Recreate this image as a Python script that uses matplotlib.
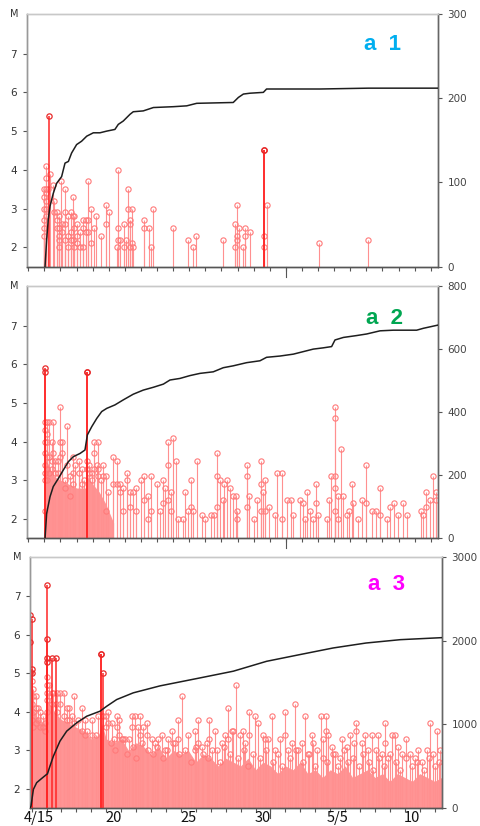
import numpy as np
import matplotlib.pyplot as plt
from matplotlib.transforms import blended_transform_factory

# Time axis: days counted from 4/15 00:00 (negative = evening of 4/14)

# ---------------- panel a1 ----------------
a1_times = [1.00, 1.10, 1.24, 1.31, 1.35, 1.51, 1.62, 1.76, 1.93, 2.01, 2.07, 2.28, 2.49,
            2.63, 2.76, 2.86, 3.05, 3.21, 3.42, 3.58, 3.73, 3.87, 4.08, 4.20, 4.49, 4.83,
            5.03, 5.49, 5.59, 5.70, 5.96, 6.07, 6.21, 6.32, 6.42, 6.52, 7.21, 7.52, 7.60,
            7.72, 8.97, 9.94, 10.25, 10.42, 12.11, 12.84, 12.98, 13.11, 13.31, 13.46,
            13.77, 14.66, 14.80, 18.07, 21.12]
a1_mags = [[3.5, 3.3, 3.0, 2.7, 2.5, 2.3], [4.1, 3.8, 3.5, 3.4, 3.2, 3.0, 2.8], [3.5], [5.4],
           [3.9], [3.6], [3.2, 2.9], [2.9, 2.7, 2.5], [2.8, 2.5, 2.3, 2.2, 2.0], [3.7],
           [2.6, 2.4], [3.5, 2.9, 2.6, 2.2], [2.8, 2.3, 2.0], [2.9, 2.4, 2.2], [3.3, 2.8, 2.2],
           [2.8, 2.5, 2.0], [2.6, 2.3, 2.1], [2.4, 2.0], [2.7, 2.5, 2.0], [2.7, 2.4],
           [3.7, 2.7, 2.4], [3.0, 2.1], [2.5], [2.8], [2.3], [3.1, 2.6], [2.9], [2.0],
           [4.0, 2.5, 2.2], [2.2], [2.6, 2.0], [2.2], [3.5, 3.0], [2.7, 2.6, 2.0], [3.0, 2.1],
           [2.0], [2.7, 2.5], [2.5], [2.0], [3.0], [2.5], [2.2], [2.0], [2.3], [2.2],
           [2.6, 2.0], [3.1, 2.3, 2.2], [2.5], [2.0], [2.5, 2.3], [2.4], [4.5, 4.5, 2.3, 2.0],
           [3.1], [2.1], [2.2]]
a1_cum_t = [1.04, 1.14, 1.24, 1.35, 1.55, 1.76, 2.07, 2.28, 2.49, 2.69, 3.00, 3.31, 3.63,
            4.04, 4.45, 4.87, 5.38, 5.59, 5.90, 6.32, 6.52, 7.14, 7.77, 9.01, 9.84, 10.46,
            12.73, 13.05, 13.36, 13.77, 14.60, 14.80, 18.12, 21.12, 25.43]
a1_cum_n = [0, 32, 56, 72, 87, 99, 107, 123, 125, 135, 145, 149, 155, 159, 159, 161, 163,
            169, 173, 181, 184, 185, 189, 190, 191, 194, 195, 201, 205, 206, 207, 211, 211,
            212, 212]
a1_right_ticks = [0, 100, 200, 300]

# ---------------- panel a2 ----------------
a2_times = [1.04, 1.14, 1.31, 1.45, 1.55, 1.66, 1.87, 1.97, 2.07, 2.28, 2.42, 2.59, 2.76,
            2.90, 3.17, 3.31, 3.46, 3.63, 3.79, 3.94, 4.08, 4.25, 4.35, 4.49, 4.66, 4.83,
            4.97, 5.28, 5.53, 5.70, 5.86, 6.11, 6.32, 6.48, 6.69, 7.00, 7.19, 7.45, 7.60,
            7.97, 8.18, 8.35, 8.49, 8.70, 8.84, 9.01, 9.15, 9.32, 9.58, 9.73, 9.94, 10.09,
            10.25, 10.46, 10.77, 10.97, 11.33, 11.53, 11.70, 11.91, 12.07, 12.16, 12.36,
            12.53, 12.73, 12.90, 12.98, 13.60, 13.73, 14.02, 14.22, 14.43, 14.60, 14.70,
            14.97, 15.32, 15.47, 15.74, 16.05, 16.30, 16.46, 16.88, 17.04, 17.19, 17.29,
            17.50, 17.70, 17.87, 18.01, 18.53, 18.70, 18.78, 19.05, 19.21, 19.40, 19.57,
            19.77, 19.94, 20.08, 20.19, 20.50, 20.71, 20.98, 21.33, 21.60, 21.85, 22.26,
            22.46, 22.71, 22.98, 23.25, 23.50, 24.37, 24.54, 24.70, 24.95, 25.16, 25.32]
a2_mags = [[5.9, 5.8, 4.5, 4.3, 4.0, 3.7, 3.4, 3.2, 3.0, 2.2], [4.5, 4.2, 4.0, 3.6, 3.3, 3.0],
           [4.5, 3.6, 3.2], [4.0, 3.5, 3.3], [4.5, 3.7], [3.5, 3.2], [3.5, 3.2], [4.9, 4.0, 3.6],
           [4.0, 3.7], [3.0, 2.8], [4.4, 3.4], [3.1, 2.6], [3.6, 3.2, 2.9], [3.4], [3.5, 3.2],
           [3.3, 2.9], [3.0], [5.8, 5.8, 3.5, 3.3], [3.4, 3.2], [3.2, 3.0], [4.0, 3.7, 3.3],
           [3.4], [4.0, 3.3, 3.1], [3.0], [3.4, 3.1], [3.1, 2.2], [2.7], [3.6, 2.9], [3.5, 2.9],
           [2.9, 2.7], [2.8, 2.2], [3.2, 3.0], [2.7, 2.3], [2.7], [2.8, 2.2], [3.0], [3.1, 2.5],
           [2.6, 2.0], [3.1, 2.2], [2.9], [2.2], [3.0, 2.4], [2.8], [4.0, 3.4, 2.5], [2.7, 2.2],
           [4.1], [3.5], [2.0], [2.0], [2.7], [2.2], [3.0, 2.3], [2.2], [3.5], [2.1], [2.0],
           [2.1], [2.1], [3.7, 3.1, 2.3], [3.0], [2.5], [2.9], [3.0], [2.8], [2.6], [2.6],
           [2.2, 2.0], [3.4, 3.1, 2.3], [2.6], [2.0], [2.5], [3.5, 2.9, 2.2], [2.7], [3.0, 2.2],
           [2.3], [2.1], [3.2], [3.2, 2.0], [2.5], [2.5], [2.1], [2.5], [2.4], [2.0], [2.7],
           [2.2], [2.0], [2.9, 2.4], [2.1], [2.0], [2.5], [3.1], [4.9, 4.6, 3.1, 2.8, 2.2],
           [2.6, 2.0], [3.8], [2.6], [2.1], [2.2], [2.9], [2.4], [2.0], [2.5], [3.4, 2.4], [2.2],
           [2.2], [2.8, 2.1], [2.0], [2.3], [2.4], [2.1], [2.4], [2.1], [2.2], [2.1], [2.7, 2.3],
           [2.5], [3.1], [2.7, 2.5]]
# upper edge of the dense cluster of small shocks
a2_band_t = [1.04, 1.3, 1.6, 2.0, 2.5, 3.0, 3.6, 3.7, 4.0, 4.4, 4.8, 5.0, 5.3]
a2_band_m = [3.6, 3.3, 3.1, 3.0, 2.9, 2.8, 2.8, 3.1, 2.9, 2.7, 2.4, 2.2, 1.9]
a2_cum_t = [1.04, 1.14, 1.35, 1.55, 1.87, 2.18, 2.49, 2.80, 3.21, 3.52, 3.67, 3.94, 4.25,
            4.56, 4.87, 5.38, 5.90, 6.52, 7.14, 7.77, 8.39, 8.80, 9.42, 10.04, 10.66, 11.49,
            12.11, 12.73, 13.56, 14.39, 14.80, 15.63, 16.46, 17.08, 17.70, 18.32, 18.84,
            19.05, 19.57, 20.40, 21.02, 21.85, 22.67, 24.12, 24.54, 25.43]
a2_cum_n = [0, 79, 132, 164, 190, 217, 243, 259, 269, 280, 328, 354, 380, 402, 412, 423,
            439, 457, 470, 479, 489, 502, 507, 516, 523, 528, 541, 547, 557, 563, 574, 578,
            584, 592, 600, 604, 608, 629, 637, 643, 648, 658, 660, 660, 666, 676]
a2_right_ticks = [0, 200, 400, 600, 800]

# ---------------- panel a3 ----------------
a3_times = [-0.10, 0.00, 0.12, 0.29, 0.45, 0.56, 0.74, 0.90, 1.06, 1.19, 1.34, 1.46, 1.61,
            1.72, 1.90, 2.19, 2.35, 2.53, 2.68, 2.84, 3.13, 3.35, 3.58, 3.73, 4.02, 4.29,
            4.47, 4.65, 4.80, 4.98, 5.14, 5.36, 5.52, 5.70, 5.87, 6.03, 6.25, 6.54, 6.70,
            6.92, 7.12, 7.26, 7.48, 7.71, 8.04, 8.26, 8.49, 8.71, 8.93, 9.16, 9.38, 9.49,
            9.83, 10.05, 10.50, 10.94, 11.17, 11.39, 11.72, 11.90, 12.28, 12.44, 12.73,
            12.95, 13.17, 13.40, 13.51, 13.69, 13.96, 14.13, 14.29, 14.58, 14.96, 15.18,
            15.52, 15.63, 15.85, 16.08, 16.30, 16.63, 16.97, 17.19, 17.42, 17.64, 17.86,
            18.09, 18.31, 18.53, 18.75, 18.87, 19.09, 19.36, 19.54, 19.71, 19.87, 20.09,
            20.32, 20.65, 20.76, 21.10, 21.32, 21.59, 21.72, 22.10, 22.32, 22.55, 22.77,
            23.06, 23.22, 23.44, 23.66, 23.89, 24.11, 24.34, 24.56, 24.79, 25.07, 25.34,
            25.67, 25.90, 26.12, 26.46, 26.68, 26.91, 27.13, 27.35]
a3_mags = [[6.5, 5.8, 5.0, 4.5, 4.0], [6.4, 5.1, 5.0, 4.8, 4.2, 3.8], [4.6, 4.4, 4.0, 3.6],
           [4.4, 4.1, 3.7], [4.1, 3.8], [4.0, 3.6], [3.9, 3.6], [3.7, 3.5],
           [7.3, 5.9, 5.4, 5.3, 4.9, 4.7, 4.5, 4.3, 4.0], [4.7, 4.4], [5.4, 4.5, 4.2], [4.5],
           [5.4, 4.2], [4.5, 4.0], [4.5, 4.2], [4.5, 3.9], [4.1, 3.8], [4.1, 3.8], [3.9],
           [4.4, 3.7], [3.8], [4.1, 3.5], [3.8, 3.4], [3.5], [3.8, 3.4], [3.4], [3.9],
           [5.5, 5.5], [5.0, 3.9], [3.9, 3.6], [4.0, 3.7], [3.7], [3.3], [3.9, 3.6], [3.8, 3.4],
           [3.3], [3.3], [3.3], [3.9, 3.6], [3.9], [3.6], [3.9, 3.4], [3.6], [3.7, 3.4], [3.3],
           [3.2], [3.3], [3.4], [3.0], [3.3], [3.5], [3.2], [3.8, 3.3], [4.4], [3.4], [3.5, 3.0],
           [3.8, 3.2], [3.1], [3.2], [3.8, 3.3], [3.5], [3.0], [3.2], [3.4], [4.1, 3.3], [3.5],
           [3.5], [4.7], [3.4], [3.5], [3.2], [4.0, 3.4], [3.9], [3.7], [3.4], [3.3], [3.3],
           [3.9], [3.0], [3.3], [4.0, 3.4], [3.0], [3.2], [4.2], [3.0], [3.2], [3.9], [2.9],
           [3.4], [3.2], [3.0], [3.9], [3.3], [3.9, 3.5], [3.4], [3.1], [2.9], [2.8], [3.3],
           [3.1], [3.4], [3.2], [3.7, 3.5], [3.2], [3.4], [3.0], [3.4], [3.0], [3.4], [2.9],
           [3.7, 3.2], [2.8], [3.4], [3.4], [3.1], [2.9], [3.3], [2.9], [2.8], [3.0], [2.7],
           [3.0], [3.7], [2.9], [3.5], [3.0]]
# smaller shocks whose circles show just above the dense cluster
a3_small_times = [5.3, 5.6, 6.1, 6.4, 6.8, 7.0, 7.4, 7.8, 8.1, 8.4, 8.8, 9.1, 9.6, 9.9,
                  10.3, 10.7, 11.0, 11.5, 11.8, 12.1, 12.6, 12.9, 13.3, 13.8, 14.2, 14.5,
                  14.8, 15.3, 15.7, 16.2, 16.5, 16.8, 17.3, 17.7, 18.2, 18.6, 19.0, 19.5,
                  19.8, 20.2, 20.5, 20.9, 21.2, 21.5, 21.9, 22.2, 22.6, 22.9, 23.3, 23.6,
                  24.0, 24.4, 24.7, 25.1, 25.5, 25.8, 26.3, 26.6, 27.0, 27.3]
a3_small_mags = [3.2, 3.0, 3.3, 2.9, 3.1, 2.8, 3.2, 3.0, 2.9, 3.1, 2.8, 3.0, 3.2, 2.9,
                 3.0, 2.7, 3.1, 2.9, 2.8, 3.0, 2.7, 3.1, 2.9, 2.8, 3.0, 2.6, 2.9, 2.8,
                 3.0, 2.7, 2.9, 2.6, 2.8, 3.0, 2.7, 2.9, 2.6, 2.8, 2.7, 2.9, 2.6, 3.0,
                 2.7, 2.8, 2.6, 2.9, 2.7, 2.5, 2.8, 2.6, 2.9, 2.7, 2.5, 2.8, 2.6, 2.7,
                 2.5, 2.8, 2.6, 2.7]
a3_band_t = [-0.1, 0.3, 0.8, 1.05, 1.5, 2.0, 2.5, 3.0, 3.5, 4.0, 4.5, 4.7, 5.0, 5.5, 6.0,
             6.5, 7.0, 7.5, 8.0, 8.5, 9.0, 9.5, 10.0, 10.5, 11.0, 11.5, 12.0, 12.5, 13.0,
             13.5, 14.0, 14.5, 15.0, 15.5, 16.0, 16.5, 17.0, 17.5, 18.0, 18.5, 19.0, 19.5,
             20.0, 20.5, 21.0, 21.5, 22.0, 22.5, 23.0, 23.5, 24.0, 24.5, 25.0, 25.5, 26.0,
             26.5, 27.0, 27.47]
a3_band_m = [4.3, 3.9, 3.7, 4.3, 4.0, 3.8, 3.7, 3.6, 3.5, 3.3, 3.4, 3.7, 3.3, 3.2, 3.3,
             3.0, 3.2, 3.1, 2.9, 3.1, 2.8, 3.0, 2.9, 3.0, 2.7, 2.9, 2.8, 2.6, 2.8, 2.7,
             2.6, 2.8, 2.5, 2.7, 2.6, 2.4, 2.6, 2.5, 2.7, 2.4, 2.5, 2.3, 2.5, 2.4, 2.6,
             2.3, 2.4, 2.5, 2.3, 2.4, 2.2, 2.4, 2.3, 2.2, 2.4, 2.3, 2.2, 2.3]
a3_cum_t = [-0.107, -0.04, 0.12, 0.34, 0.70, 1.01, 1.06, 1.23, 1.46, 1.90, 2.35, 3.02,
            3.69, 4.58, 5.03, 5.70, 6.81, 8.60, 11.28, 13.51, 15.74, 17.97, 20.20, 22.40,
            24.70, 27.47]
a3_cum_n = [0, 27, 226, 306, 360, 405, 410, 503, 622, 801, 920, 1020, 1098, 1158, 1217,
            1297, 1377, 1460, 1555, 1635, 1753, 1833, 1912, 1971, 2011, 2035]
a3_right_ticks = [0, 1000, 2000, 3000]

date_labels = ['4/15', '20', '25', '30', '5/5', '10']
date_label_days = [0, 5, 10, 15, 20, 25]

STEM = '#ff9090'
STRONG = '#ff2626'
BAND = '#ff9595'


def draw_panel(ax, times, mags, strong_m, cum_t, cum_n, right_ticks, ndays,
               band_t=None, band_m=None):
    t = np.repeat(times, [len(mm) for mm in mags])
    m = np.concatenate([np.array(mm, dtype=float) for mm in mags])

    if band_t is not None:
        ax.fill_between(band_t, 1.5, band_m, color=BAND, lw=0, zorder=1)

    weak = m < strong_m
    ax.vlines(t[weak], 1.5, m[weak], colors=STEM, lw=0.8, zorder=2)
    ax.plot(t[weak], m[weak], 'o', ms=3.8, mfc='none', mec='#ff7a7a', mew=0.8, zorder=3)
    ax.vlines(t[~weak], 1.5, m[~weak], colors=STRONG, lw=1.1, zorder=4)
    ax.plot(t[~weak], m[~weak], 'o', ms=3.8, mfc='none', mec='#e82a2a', mew=0.9, zorder=5)

    ax.set_ylim(1.5, 8.02)
    ax.set_yticks([2, 3, 4, 5, 6, 7])
    ax.tick_params(axis='y', length=3, pad=4, labelsize=7.5, colors='#555',
                   labelcolor='#333')
    ax.text(-0.03, 1.0, 'M', transform=ax.transAxes, ha='center', va='center',
            fontsize=7, color='#333')

    # day ticks, longer one at 5/1
    ax.set_xticks(np.arange(0, ndays + 1))
    ax.set_xticklabels([])
    ax.tick_params(axis='x', length=3, width=0.8, colors='#555')
    tr = blended_transform_factory(ax.transData, ax.transAxes)
    ax.plot([16, 16], [0, -0.04], transform=tr, clip_on=False, color='#555', lw=0.8)

    ax2 = ax.twinx()
    ax2.plot(cum_t, cum_n, color='#1e1e1e', lw=1.1, zorder=6)
    ax2.set_ylim(0, right_ticks[-1])
    ax2.set_yticks(right_ticks)
    ax2.tick_params(axis='y', length=3, pad=4, labelsize=7.5, colors='#555',
                    labelcolor='#444')
    for a in (ax, ax2):
        a.spines['top'].set_color('#c8c8c8')
        a.spines['left'].set_color('#999999')
        a.spines['right'].set_color('#666666')
        a.spines['bottom'].set_color('#555555')
        for s in a.spines.values():
            s.set_linewidth(1.0)
    return ax2


fig = plt.figure(figsize=(4.8, 8.26), dpi=100)

ax1 = fig.add_axes([0.0556, 0.6771, 0.8563, 0.3059])
ax1.set_xlim(-0.1, 25.43)
draw_panel(ax1, a1_times, a1_mags, 4.5, a1_cum_t, a1_cum_n, a1_right_ticks, 25)

ax2 = fig.add_axes([0.0556, 0.3483, 0.8563, 0.3054])
ax2.set_xlim(-0.1, 25.43)
draw_panel(ax2, a2_times, a2_mags, 5.0, a2_cum_t, a2_cum_n, a2_right_ticks, 25,
           a2_band_t, a2_band_m)

ax3 = fig.add_axes([0.0625, 0.0214, 0.8577, 0.3046])
ax3.set_xlim(-0.107, 27.47)
draw_panel(ax3, a3_times + a3_small_times, a3_mags + [[v] for v in a3_small_mags], 5.0,
           a3_cum_t, a3_cum_n, a3_right_ticks, 27, a3_band_t, a3_band_m)

# date labels sit under the middle of each labelled day, kept inside the figure
for d, lab in zip(date_label_days, date_labels):
    fig.text(0, 0, lab, ha='center', va='bottom', fontsize=10.5,
             family=['Noto Sans CJK JP', 'DejaVu Sans'], color='#111',
             transform=blended_transform_factory(ax3.transData, fig.transFigure),
             position=(d + 0.5, 1.2 / 826))

fig.text(383 / 480, 1 - 45 / 826, 'a  1', color='#00aeef', fontsize=16, fontweight='bold',
         ha='center', va='center', family='Liberation Sans')
fig.text(385 / 480, 1 - 318 / 826, 'a  2', color='#00a651', fontsize=16, fontweight='bold',
         ha='center', va='center', family='Liberation Sans')
fig.text(387 / 480, 1 - 585 / 826, 'a  3', color='#ff00ff', fontsize=16, fontweight='bold',
         ha='center', va='center', family='Liberation Sans')

fig.savefig('out.png', dpi=100)
